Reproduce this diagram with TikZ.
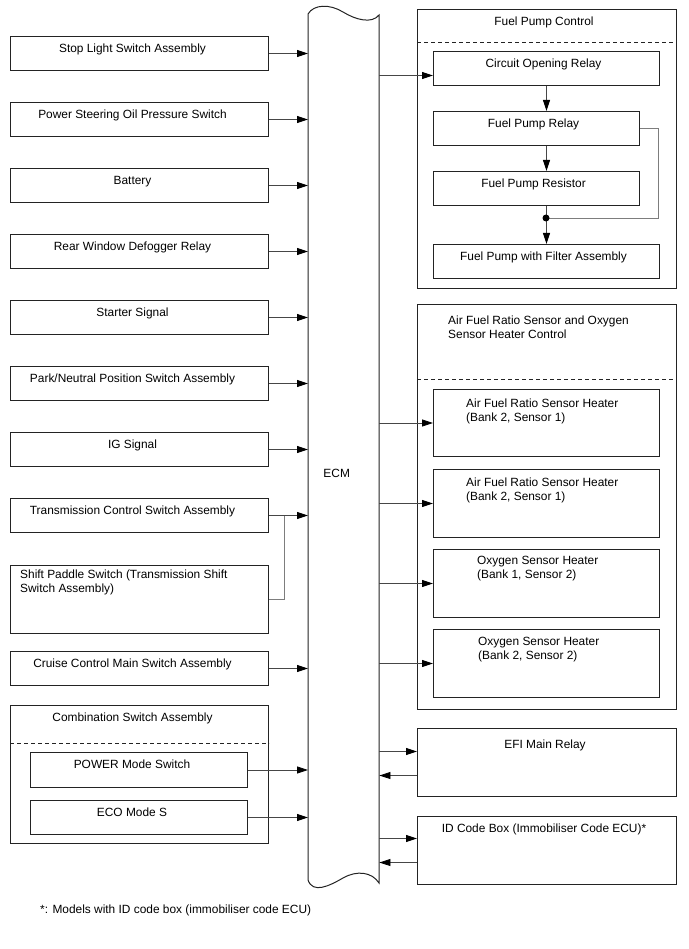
\documentclass[tikz,border=0pt]{standalone}
\usepackage{fontspec}
\setmainfont{Liberation Sans}
\usepackage{tikz}
\usetikzlibrary{arrows.meta, positioning, calc}
\definecolor{boxline}{RGB}{35,35,35}
\definecolor{wireline}{RGB}{70,70,70}
\definecolor{sideline}{RGB}{125,125,125}
\tikzset{
  unit/.style={rectangle, draw=boxline, line width=1pt, inner sep=0pt,
    anchor=north west},
  lbl/.style={font=\fontsize{11.9}{14}\selectfont, inner sep=0pt, text=black},
  ttl/.style={label={[lbl, anchor=north, xshift=-7pt, yshift=-8pt]north:#1}},
  rttl/.style={label={[lbl, anchor=north, xshift=-3pt, yshift=-8pt]north:#1}},
  lttl/.style n args={3}{label={[lbl, align=left, anchor=north west,
    xshift=#1, yshift=#2]north west:{#3}}},
  arrow/.style={-{Triangle[length=11pt,width=7pt,color=black]}, line width=0.8pt, color=wireline},
  link/.style={line width=0.8pt, color=sideline},
  split/.style={dash pattern=on 4pt off 3pt, line width=0.8pt, color=boxline}
}
\begin{document}
\begin{tikzpicture}[x=1pt, y=-1pt]
  \useasboundingbox (0,0) rectangle (688,949);

  % ECM
  \node[anchor=north west, minimum width=71pt, minimum height=868pt, inner sep=0pt,
    label={[lbl, xshift=-7pt, yshift=-25pt]center:ECM}] (ecm) at (308,14) {};
  \draw[boxline, line width=1pt] (308,14) .. controls (314,4) and (330,4) .. (343,12)
    .. controls (356,20) and (372,24) .. (379,15) -- (379,883)
    .. controls (372,872) and (357,870) .. (343,878)
    .. controls (329,886) and (313,894) .. (308,880) -- cycle;

  % inputs
  \node[unit, minimum width=258pt, minimum height=34pt, ttl={Stop Light Switch Assembly}] (stop) at (10,36) {};
  \node[unit, minimum width=258pt, minimum height=34pt, ttl={Power Steering Oil Pressure Switch}] (pwr) at (10,102) {};
  \node[unit, minimum width=258pt, minimum height=34pt, ttl={Battery}] (batt) at (10,168) {};
  \node[unit, minimum width=258pt, minimum height=34pt, ttl={Rear Window Defogger Relay}] (defog) at (10,234) {};
  \node[unit, minimum width=258pt, minimum height=34pt, ttl={Starter Signal}] (start) at (10,300) {};
  \node[unit, minimum width=258pt, minimum height=34pt, ttl={Park/Neutral Position Switch Assembly}] (park) at (10,366) {};
  \node[unit, minimum width=258pt, minimum height=34pt, ttl={IG Signal}] (ig) at (10,432) {};
  \node[unit, minimum width=258pt, minimum height=34pt, ttl={Transmission Control Switch Assembly}] (tcs) at (10,498) {};
  \node[unit, minimum width=258pt, minimum height=68pt,
    lttl={10pt}{-5pt}{Shift Paddle Switch (Transmission Shift\\Switch Assembly)}] (paddle) at (10,565) {};
  \node[unit, minimum width=258pt, minimum height=34pt, ttl={Cruise Control Main Switch Assembly}] (cruise) at (10,651) {};
  \node[unit, minimum width=258pt, minimum height=138pt, ttl={Combination Switch Assembly}] (comb) at (10,705) {};
  \node[unit, minimum width=217pt, minimum height=35pt, ttl={POWER Mode Switch}] (power) at (30,752) {};
  \node[unit, minimum width=217pt, minimum height=34pt, ttl={ECO Mode S}] (eco) at (30,800) {};
  \draw[split] ([yshift=-38pt]comb.north west) -- ([yshift=-38pt]comb.north east);

  \draw[arrow] (stop) -- (stop -| ecm.west);
  \draw[arrow] (pwr) -- (pwr -| ecm.west);
  \draw[arrow] (batt) -- (batt -| ecm.west);
  \draw[arrow] (defog) -- (defog -| ecm.west);
  \draw[arrow] (start) -- (start -| ecm.west);
  \draw[arrow] (park) -- (park -| ecm.west);
  \draw[arrow] (ig) -- (ig -| ecm.west);
  \draw[arrow] (tcs) -- (tcs -| ecm.west);
  \coordinate[right=15pt of tcs.east] (tj);
  \draw[link] (paddle.east) -| (tj);
  \draw[arrow] (cruise) -- (cruise -| ecm.west);
  \draw[arrow] (power) -- (power -| ecm.west);
  \draw[arrow] (eco) -- (eco -| ecm.west);

  % fuel pump control
  \node[unit, minimum width=259pt, minimum height=279pt, rttl={Fuel Pump Control}] (fpc) at (417,9) {};
  \draw[split] ([yshift=-33pt]fpc.north west) -- ([yshift=-33pt]fpc.north east);
  \node[unit, minimum width=226pt, minimum height=34pt, rttl={Circuit Opening Relay}] (cor) at (433,51) {};
  \node[unit, minimum width=206pt, minimum height=34pt, rttl={Fuel Pump Relay}] (fpr) at (433,111) {};
  \node[unit, minimum width=206pt, minimum height=34pt, rttl={Fuel Pump Resistor}] (res) at (433,171) {};
  \node[unit, minimum width=226pt, minimum height=34pt, rttl={Fuel Pump with Filter Assembly}] (filt) at (433,244) {};
  \coordinate (jn) at (546,218);
  \coordinate (byp) at (658,218);

  \draw[arrow] ([yshift=-7pt]ecm.east |- cor.west) -- ([yshift=-7pt]cor.west);
  \draw[arrow] (cor.south) -- (cor.south |- fpr.north);
  \draw[arrow] (cor.south |- fpr.south) -- (cor.south |- res.north);
  \draw[arrow] (cor.south |- res.south) -- (filt.north);
  \draw[link] (fpr.east) -| (byp) -- (jn);
  \fill[black] (jn) circle (3.5pt);

  % air fuel ratio / oxygen sensor heaters
  \node[unit, minimum width=259pt, minimum height=405pt,
    lttl={31pt}{-12pt}{Air Fuel Ratio Sensor and Oxygen\\Sensor Heater Control}] (afr) at (417,304) {};
  \draw[split] ([yshift=-75pt]afr.north west) -- ([yshift=-75pt]afr.north east);
  \node[unit, minimum width=226pt, minimum height=67pt,
    lttl={33pt}{-10pt}{Air Fuel Ratio Sensor Heater\\(Bank 2, Sensor 1)}] (htra) at (433,389) {};
  \node[unit, minimum width=226pt, minimum height=68pt,
    lttl={33pt}{-9pt}{Air Fuel Ratio Sensor Heater\\(Bank 2, Sensor 1)}] (htrb) at (433,469) {};
  \node[unit, minimum width=226pt, minimum height=68pt,
    lttl={44pt}{-7pt}{Oxygen Sensor Heater\\(Bank 1, Sensor 2)}] (htrc) at (433,549) {};
  \node[unit, minimum width=226pt, minimum height=68pt,
    lttl={45pt}{-8pt}{Oxygen Sensor Heater\\(Bank 2, Sensor 2)}] (htrd) at (433,629) {};

  \draw[arrow] (ecm.east |- htra.west) -- (htra.west);
  \draw[arrow] (ecm.east |- htrb.west) -- (htrb.west);
  \draw[arrow] (ecm.east |- htrc.west) -- (htrc.west);
  \draw[arrow] (ecm.east |- htrd.west) -- (htrd.west);

  % relays
  \node[unit, minimum width=259pt, minimum height=68pt,
    label={[lbl, anchor=north, xshift=-2pt, yshift=-12pt]north:EFI Main Relay}] (efi) at (417,728) {};
  \node[unit, minimum width=259pt, minimum height=68pt,
    label={[lbl, anchor=north, xshift=-3pt, yshift=-8pt]north:ID Code Box (Immobiliser Code ECU)*}] (idc) at (417,816) {};

  \draw[arrow] ([yshift=11pt]ecm.east |- efi.west) -- ([yshift=11pt]efi.west);
  \draw[arrow] ([yshift=-13pt]efi.west) -- ([yshift=-13pt]ecm.east |- efi.west);
  \draw[arrow] ([yshift=12pt]ecm.east |- idc.west) -- ([yshift=12pt]idc.west);
  \draw[arrow] ([yshift=-12pt]idc.west) -- ([yshift=-12pt]ecm.east |- idc.west);

  \node[lbl, anchor=west] (note) at (40,910) {*: Models with ID code box (immobiliser code ECU)};
\end{tikzpicture}
\end{document}
